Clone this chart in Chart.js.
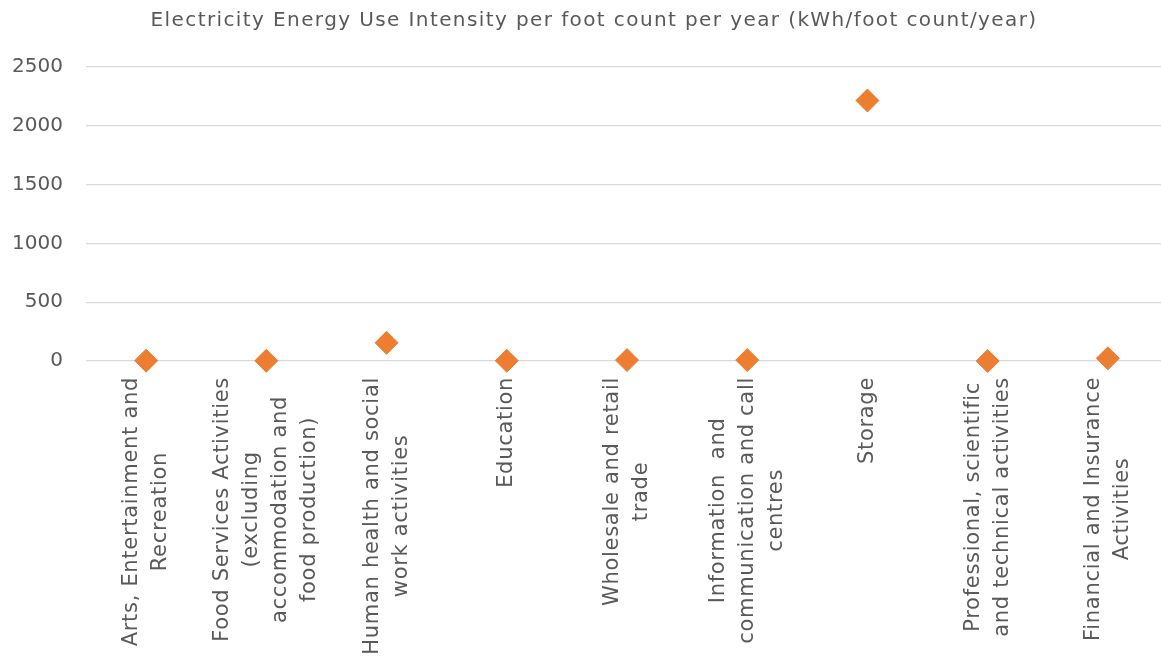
<!DOCTYPE html>
<html>
<head>
<meta charset="utf-8">
<script src="https://cdn.jsdelivr.net/npm/chart.js@4.4.1/dist/chart.umd.min.js"></script>
<style>
  html, body { margin: 0; padding: 0; background: #ffffff; overflow: hidden; }
  canvas { display: block; }
</style>
</head>
<body>
<canvas id="c" width="1168" height="670"></canvas>
<script>
const chartTitle = 'Electricity Energy Use Intensity per foot count per year (kWh/foot count/year)';

const categories = [
  ['Arts, Entertainment and', 'Recreation'],
  ['Food Services Activities', '(excluding', 'accommodation and', 'food production)'],
  ['Human health and social', 'work activities'],
  ['Education'],
  ['Wholesale and retail', 'trade'],
  ['Information  and', 'communication and call', 'centres'],
  ['Storage'],
  ['Professional, scientific', 'and technical activities'],
  ['Financial and Insurance', 'Activities']
];

const euiValues = [3, 2, 155, 2, 8, 8, 2215, 0, 23];

const yTicks = [0, 500, 1000, 1500, 2000, 2500];

const FONT_FAMILY = '"DejaVu Sans", sans-serif';
const TEXT_COLOR = '#595959';
const GRID_COLOR = '#D9D9D9';
const MARKER_COLOR = '#ED7D31';

// Title and rotated, centre-aligned multi-line category labels
const textPlugin = {
  id: 'euiText',
  afterDraw(chart) {
    const { ctx, chartArea, scales: { x } } = chart;
    ctx.save();
    ctx.fillStyle = TEXT_COLOR;

    ctx.font = '20px ' + FONT_FAMILY;
    ctx.letterSpacing = '1.4px';
    ctx.textAlign = 'center';
    ctx.textBaseline = 'middle';
    ctx.fillText(chartTitle, 594, 21);

    ctx.font = '21px ' + FONT_FAMILY;
    ctx.letterSpacing = '0.7px';
    const lineHeight = 29;
    const gap = 16;
    categories.forEach((lines, i) => {
      const px = x.getPixelForTick(i);
      const w = Math.max(...lines.map(l => ctx.measureText(l).width));
      ctx.save();
      ctx.translate(px, chartArea.bottom + gap + w / 2);
      ctx.rotate(-Math.PI / 2);
      lines.forEach((line, j) => {
        ctx.fillText(line, 0, (j - (lines.length - 1) / 2) * lineHeight);
      });
      ctx.restore();
    });
    ctx.restore();
  }
};

new Chart(document.getElementById('c'), {
  type: 'line',
  data: {
    labels: categories,
    datasets: [{
      label: chartTitle,
      data: euiValues,
      showLine: false,
      clip: false,
      pointStyle: 'rectRot',
      pointRadius: 11.5,
      pointHoverRadius: 11.5,
      pointBorderWidth: 1,
      pointBackgroundColor: MARKER_COLOR,
      pointBorderColor: MARKER_COLOR
    }]
  },
  options: {
    responsive: false,
    animation: false,
    events: [],
    layout: { autoPadding: false, padding: { top: 67, bottom: 309, left: 0, right: 0 } },
    plugins: {
      legend: { display: false },
      title: { display: false },
      tooltip: { enabled: false }
    },
    scales: {
      x: {
        offset: true,
        grid: { display: false, drawTicks: false },
        border: { display: false },
        ticks: { display: false }
      },
      y: {
        min: yTicks[0],
        max: yTicks[yTicks.length - 1],
        afterBuildTicks(scale) {
          scale.ticks = yTicks.map(v => ({ value: v }));
        },
        afterFit(scale) { scale.width = 86; },
        grid: { color: GRID_COLOR, lineWidth: 1.3, drawTicks: false },
        border: { display: false },
        ticks: {
          color: TEXT_COLOR,
          padding: 23,
          font: { family: FONT_FAMILY, size: 20 },
          callback: v => String(v)
        }
      }
    }
  },
  plugins: [textPlugin]
});
</script>
</body>
</html>
